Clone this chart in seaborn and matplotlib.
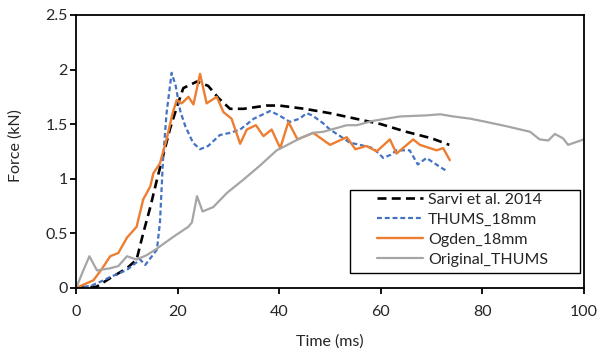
import seaborn as sns
import matplotlib.pyplot as plt
from matplotlib.patches import Rectangle
from matplotlib.ticker import FuncFormatter

# Sarvi et al. 2014 (experimento)
sarvi_t = [0, 4, 6.7, 10, 11.9, 13.2, 14.6, 15.9, 16.9, 18.5, 20, 21.1, 23.8, 26, 28, 30.3,
           33, 37.5, 40, 45, 50, 55, 60, 65, 70, 73.5]
sarvi_f = [0, 0.01, 0.09, 0.18, 0.26, 0.5, 0.74, 0.99, 1.17, 1.46, 1.68, 1.83, 1.89, 1.85, 1.74, 1.64,
           1.64, 1.67, 1.67, 1.64, 1.60, 1.55, 1.50, 1.43, 1.37, 1.31]

# THUMS_18mm
thums18_t = [0, 3, 5.4, 6.7, 8.3, 10, 12.6, 13.6, 15.9, 16.5, 17.1, 17.8, 18.8, 19.6, 20.5, 21.5, 23,
             24.4, 26, 28.3, 30.3, 32.3, 35, 38.2, 40, 42.1, 44, 45.4, 46.5, 48.6, 50, 52, 53.9,
             55.9, 58.5, 60.5, 62, 63.1, 65.7, 67.3, 69, 71.6, 73]
thums18_f = [0, 0.02, 0.07, 0.10, 0.13, 0.165, 0.26, 0.21, 0.35, 0.6, 1.17, 1.6, 1.97, 1.85, 1.62, 1.48, 1.33,
             1.27, 1.3, 1.40, 1.42, 1.45, 1.55, 1.62, 1.58, 1.52, 1.55, 1.60, 1.58, 1.51, 1.45, 1.39, 1.33,
             1.31, 1.28, 1.19, 1.22, 1.26, 1.26, 1.13, 1.19, 1.11, 1.07]

# Ogden_18mm
ogden_t = [0, 3.4, 5, 6.7, 8.3, 10, 11.9, 13.2, 14.6, 15.2, 16.5, 17.8, 19, 19.8, 20.8, 22.1, 23.1,
           24.4, 25.7, 27.7, 29, 30.6, 32.3, 33.6, 35.4, 36.9, 38.5, 40.2, 41.8, 43.6, 46.7, 50,
           53.3, 55, 57.2, 59.2, 61.8, 63.1, 66.4, 67.7, 69.7, 71, 72.3, 73.6]
ogden_f = [0, 0.07, 0.17, 0.29, 0.32, 0.46, 0.56, 0.81, 0.93, 1.05, 1.14, 1.36, 1.6, 1.72, 1.69, 1.75, 1.68,
           1.96, 1.69, 1.75, 1.61, 1.55, 1.32, 1.45, 1.49, 1.39, 1.45, 1.28, 1.52, 1.36, 1.42, 1.31,
           1.38, 1.27, 1.30, 1.25, 1.36, 1.23, 1.36, 1.31, 1.28, 1.26, 1.28, 1.17]

# Original_THUMS
orig_t = [0, 1.4, 2.6, 4.1, 6.7, 8.3, 10, 11.9, 13.9, 15.9, 19.2, 22.1, 22.8, 23.8, 24.9, 27, 29.7,
          32.9, 36.2, 39.5, 40.8, 44.1, 46.7, 48.7, 53.3, 55.3, 58.5, 63.8, 69, 71.7, 74.3, 77.6,
          80.8, 84.8, 89.4, 91.3, 93, 94.3, 95.9, 96.9, 100]
orig_f = [0, 0.16, 0.29, 0.16, 0.18, 0.2, 0.29, 0.26, 0.30, 0.36, 0.47, 0.56, 0.60, 0.84, 0.70, 0.74, 0.87,
          0.99, 1.12, 1.26, 1.29, 1.37, 1.42, 1.43, 1.49, 1.49, 1.53, 1.57, 1.58, 1.59, 1.57, 1.55,
          1.52, 1.48, 1.43, 1.36, 1.35, 1.41, 1.37, 1.31, 1.36]

x_ticks = [0, 20, 40, 60, 80, 100]
y_ticks = [0, 0.5, 1, 1.5, 2, 2.5]

sns.set_style("white")
plt.rcParams['font.family'] = ['Lato', 'DejaVu Sans']

fig = plt.figure(figsize=(6, 3.55), dpi=100)
ax = fig.add_axes([0.127, 0.189, 0.846, 0.769])

sns.lineplot(x=sarvi_t, y=sarvi_f, ax=ax, color='black', linewidth=1.9, sort=False,
             label='Sarvi et al. 2014').lines[-1].set_dashes((3.4, 2.0))
sns.lineplot(x=thums18_t, y=thums18_f, ax=ax, color='#4472C4', linewidth=1.6, sort=False,
             label='THUMS_18mm').lines[-1].set_dashes((2.2, 1.3))
sns.lineplot(x=ogden_t, y=ogden_f, ax=ax, color='#ED7D31', linewidth=1.7, sort=False,
             label='Ogden_18mm')
sns.lineplot(x=orig_t, y=orig_f, ax=ax, color='#A5A5A5', linewidth=1.6, sort=False,
             label='Original_THUMS')

ax.set_xlim(0, 100)
ax.set_ylim(0, 2.5)
ax.set_xticks(x_ticks)
ax.set_yticks(y_ticks)
ax.yaxis.set_major_formatter(FuncFormatter(lambda v, p: f'{v:g}'))
ax.set_xlabel('Time (ms)', fontsize=11.5)
ax.set_ylabel('Force (kN)', fontsize=11.5)
ax.xaxis.set_label_coords(0.5, -0.17)
ax.yaxis.set_label_coords(-0.106, 0.52)
ax.tick_params(axis='both', direction='out', length=4, width=1.3, color='black',
               labelsize=11.5, bottom=True, left=True)
ax.tick_params(axis='x', pad=8)
ax.tick_params(axis='y', pad=2)
for s in ax.spines.values():
    s.set_color('black')
    s.set_linewidth(1.3)

# caixa da legenda no estilo Excel (fixa)
ax.add_patch(Rectangle((0.539, 0.055), 0.453, 0.304, transform=ax.transAxes,
                       facecolor='white', edgecolor='black', linewidth=1.0, zorder=4))
leg = ax.legend(loc='upper left', bbox_to_anchor=(0.5925, 0.35), fontsize=11.5,
                frameon=False, handlelength=2.9, borderpad=0, borderaxespad=0,
                labelspacing=0.37, handletextpad=0.31)
leg.set_zorder(5)

fig.savefig('out.png', dpi=100)
